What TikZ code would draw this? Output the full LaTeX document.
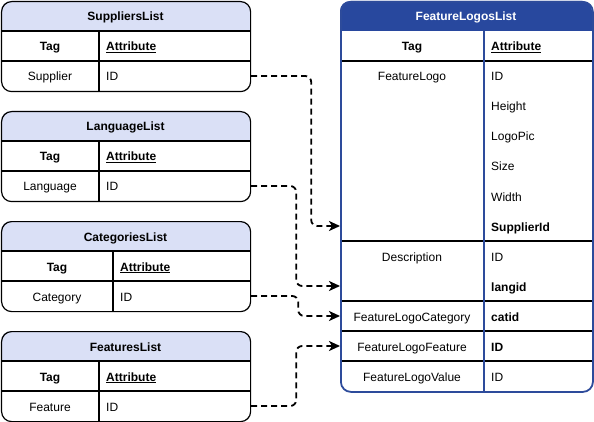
\documentclass[tikz,border=0pt]{standalone}
\usepackage{fontspec}
\setmainfont{Liberation Sans}
\usetikzlibrary{arrows.meta,calc}
\definecolor{hdrL}{RGB}{218,224,246}
\definecolor{hdrR}{RGB}{40,72,158}
\definecolor{bordR}{RGB}{45,75,155}
\tikzset{
 cell/.style={font=\fontsize{12}{14}\selectfont, text height=10pt, text depth=0pt, inner sep=0pt},
 bcell/.style={cell, font=\fontsize{12}{14}\selectfont\bfseries},
 tbl/.style={draw, line width=1.2pt, rounded corners=10pt, minimum width=249pt, minimum height=90pt, inner sep=0pt, anchor=north west},
 rtbl/.style={draw=bordR, line width=1.8pt, rounded corners=10pt, minimum width=252pt, minimum height=390pt, inner sep=0pt, anchor=north west},
 grid/.style={line width=1.2pt},
 link/.style={line width=1.8pt, dash pattern=on 6pt off 4pt, rounded corners=6pt, -{Stealth[length=11pt,width=10pt,inset=3pt]}},
}
\newcommand{\attrhead}{\underline{Attribute}}
\newcommand{\lefttable}[6]{%
 \begin{scope}
  \clip (1,#2) rectangle (250,#2+30);
  \fill[hdrL, rounded corners=10pt] (1,#2) rectangle (250,#2+90);
 \end{scope}
 \node[tbl] (#1) at (1,#2) {};
 \draw[grid] (1,#2+30) -- (250,#2+30);
 \draw[grid] (1,#2+60) -- (250,#2+60);
 \draw[grid] (#3,#2+30) -- (#3,#2+90);
 \node[bcell] (#1-title) at (125.5,#2+15) {#4};
 \node[bcell] (#1-tag) at ({(1+#3)/2},#2+45) {Tag};
 \node[bcell, anchor=west] (#1-attr) at (#3+7,#2+45) {\attrhead};
 \node[cell] (#1-row) at ({(1+#3)/2},#2+75) {#5};
 \node[cell, anchor=west] (#1-id) at (#3+7,#2+75) {#6};
}
\begin{document}
\begin{tikzpicture}[x=1pt,y=-1pt]
\useasboundingbox (0,0) rectangle (594,422);
\lefttable{sup}{1}{99}{SuppliersList}{Supplier}{ID}
\lefttable{lang}{111}{99}{LanguageList}{Language}{ID}
\lefttable{cat}{221}{113}{CategoriesList}{Category}{ID}
\lefttable{feat}{331}{99}{FeaturesList}{Feature}{ID}
% right table
\begin{scope}
 \clip (340,1) rectangle (592,31);
 \fill[hdrR, rounded corners=10pt] (340,1) rectangle (592,391);
\end{scope}
\draw[grid] (340,61) -- (592,61);
\draw[grid] (340,241) -- (592,241);
\draw[grid] (340,301) -- (592,301);
\draw[grid] (340,331) -- (592,331);
\draw[grid] (340,361) -- (592,361);
\draw[draw=bordR, line width=1.8pt] (484,31) -- (484,391);
\node[rtbl] (flog) at (340,1) {};
\node[bcell, text=white] (fl-title) at (466,16) {FeatureLogosList};
\node[bcell] (fl-tag) at (412,46) {Tag};
\node[bcell, anchor=west] (fl-attr) at (491,46) {\attrhead};
\node[cell] (fl-logo) at (412,76) {FeatureLogo};
\node[cell, anchor=west] (fl-id) at (491,76) {ID};
\node[cell, anchor=west] (fl-h) at (491,106) {Height};
\node[cell, anchor=west] (fl-pic) at (491,136) {LogoPic};
\node[cell, anchor=west] (fl-size) at (491,166) {Size};
\node[cell, anchor=west] (fl-w) at (491,196) {Width};
\node[bcell, anchor=west] (fl-sid) at (491,226) {SupplierId};
\node[cell] (fl-desc) at (412,256) {Description};
\node[cell, anchor=west] (fl-did) at (491,256) {ID};
\node[bcell, anchor=west] (fl-lang) at (491,286) {langid};
\node[cell] (fl-catrow) at (412,316) {FeatureLogoCategory};
\node[bcell, anchor=west] (fl-cat) at (491,316) {catid};
\node[cell] (fl-featrow) at (412,346) {FeatureLogoFeature};
\node[bcell, anchor=west] (fl-fid) at (491,346) {ID};
\node[cell] (fl-valrow) at (412,376) {FeatureLogoValue};
\node[cell, anchor=west] (fl-vid) at (491,376) {ID};
% connectors
\draw[link] (sup.east |- sup-id) -- ++(60,0) |- (flog.west |- fl-sid);
\draw[link] (lang.east |- lang-id) -- ++(45,0) |- (flog.west |- fl-lang);
\draw[link] (cat.east |- cat-id) -- ++(47,0) |- (flog.west |- fl-cat);
\draw[link] (feat.east |- feat-id) -- ++(45,0) |- (flog.west |- fl-fid);
\end{tikzpicture}
\end{document}
